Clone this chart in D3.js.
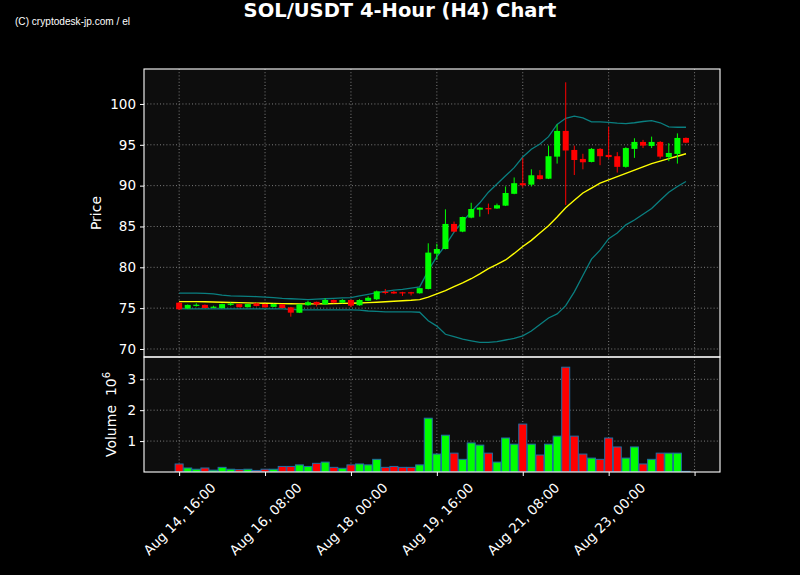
<!DOCTYPE html>
<html><head><meta charset="utf-8">
<script src="https://cdn.jsdelivr.net/npm/d3@7"></script>
<style>
html,body{margin:0;padding:0;background:#000;}
svg{display:block;font-family:"DejaVu Sans",sans-serif;}
</style></head>
<body>
<svg id="c" width="800" height="575"></svg>
<script>
// ---- data (4-hour candles, index 0 = Aug 14 16:00) ----
const open  = [75.67,74.96,75.35,75.40,75.12,75.00,75.40,75.50,75.12,75.60,75.50,75.16,75.47,75.10,74.44,75.36,75.77,75.47,76.00,75.67,
               76.00,75.35,75.90,76.09,77.00,77.00,76.95,76.95,76.82,77.35,81.67,82.24,85.31,84.37,86.08,87.06,87.25,87.20,87.55,89.00,
               90.30,90.12,91.27,90.85,93.55,96.70,94.37,93.27,92.90,94.50,93.76,93.60,92.30,94.50,95.35,94.86,95.35,93.50,93.88,95.84];
const high  = [75.75,75.45,75.60,75.45,75.30,75.55,75.70,75.55,75.55,75.65,75.55,75.55,75.50,75.15,75.50,75.90,75.80,76.20,76.05,76.10,
               76.05,76.10,76.45,77.15,77.35,77.10,77.00,77.00,77.50,82.94,82.90,87.10,85.60,86.20,87.90,87.35,87.80,87.80,89.90,91.00,
               93.40,92.00,91.90,94.90,97.50,102.65,94.90,93.90,94.60,94.60,97.20,94.10,94.70,95.80,95.60,96.00,95.45,95.20,96.40,95.90];
const low   = [74.80,74.90,75.20,74.98,75.00,74.98,75.30,75.08,75.08,75.20,75.05,75.12,74.98,73.96,74.40,75.30,75.20,75.40,75.60,75.60,
               75.10,75.30,75.85,76.00,76.70,76.75,76.50,76.55,76.78,77.30,80.90,82.20,84.30,84.30,86.00,86.20,86.50,87.15,87.50,88.95,
               89.80,89.90,90.75,90.80,92.70,87.63,91.30,92.00,92.85,92.50,93.30,91.60,92.20,93.40,94.60,94.60,93.30,93.00,92.70,95.20];
const close = [74.86,75.40,75.42,75.02,75.18,75.50,75.55,75.12,75.50,75.26,75.10,75.50,75.02,74.45,75.47,75.73,75.45,76.00,75.67,76.00,
               75.30,76.00,76.27,77.06,76.90,76.80,76.82,76.80,77.45,81.80,82.24,85.31,84.37,86.16,87.14,87.30,87.15,87.60,89.10,90.30,
               90.05,91.27,90.80,93.60,96.70,94.30,93.14,92.86,94.50,93.60,93.50,92.30,94.60,95.35,94.90,95.35,93.55,94.00,95.84,95.26];
// volume in units of 10^6
const volume = [0.26,0.13,0.09,0.13,0.06,0.15,0.09,0.075,0.09,0.05,0.09,0.09,0.18,0.18,0.23,0.18,0.28,0.32,0.15,0.12,
                0.23,0.26,0.23,0.41,0.15,0.18,0.15,0.15,0.23,1.74,0.58,1.19,0.61,0.41,0.94,0.87,0.61,0.32,1.10,0.90,
                1.55,0.90,0.55,0.90,1.16,3.39,1.16,0.58,0.45,0.41,1.10,0.81,0.45,0.81,0.26,0.41,0.61,0.61,0.61,0.02];
// SMA(20) and Bollinger bands
const sma20 = [75.80,75.80,75.80,75.78,75.75,75.72,75.70,75.68,75.65,75.62,75.60,75.58,75.56,75.54,75.52,75.52,75.52,75.54,75.56,75.58,
               75.60,75.64,75.68,75.72,75.78,75.84,75.90,75.96,76.05,76.35,76.75,77.15,77.63,78.10,78.60,79.20,79.85,80.35,80.90,81.70,
               82.55,83.30,84.20,85.10,86.15,87.30,88.20,89.10,89.70,90.30,90.70,91.10,91.50,91.90,92.30,92.70,93.00,93.30,93.60,93.90];
const upperBand = [76.85,76.85,76.83,76.80,76.75,76.60,76.50,76.48,76.45,76.42,76.35,76.30,76.20,76.15,76.10,76.05,76.10,76.15,76.20,76.25,
               76.30,76.50,76.70,76.90,77.05,77.20,77.30,77.45,77.60,79.60,81.30,82.70,84.30,85.60,86.80,87.90,89.20,90.20,91.20,92.20,
               93.50,94.45,95.10,96.00,97.50,98.25,98.50,98.30,97.80,97.80,97.75,97.65,97.60,97.70,97.85,97.95,97.70,97.20,97.15,97.15];
const lowerBand = [74.95,74.90,74.90,74.90,74.90,74.90,74.90,74.90,74.90,74.90,74.90,74.90,74.90,74.85,74.80,74.80,74.80,74.80,74.80,74.80,
               74.80,74.75,74.65,74.60,74.55,74.55,74.55,74.55,74.50,73.45,72.80,71.80,71.50,71.20,71.00,70.80,70.80,70.90,71.10,71.30,
               71.60,72.20,73.00,73.80,74.30,75.30,77.00,79.00,81.00,82.10,83.50,84.20,85.20,85.80,86.50,87.20,88.20,89.20,89.90,90.50];
const xTickIdx = [0,10,20,30,40,50,60];
const xTickLabels = ["Aug 14, 16:00","Aug 16, 08:00","Aug 18, 00:00","Aug 19, 16:00","Aug 21, 08:00","Aug 23, 00:00",""];
const priceTicks = [70,75,80,85,90,95,100];
const volTicks = [1,2,3];

// ---- layout ----
const L = 144, R = 720, PT = 69, PB = 357, VT = 357, VB = 472;
const svg = d3.select("#c");
svg.append("rect").attr("width",800).attr("height",575).attr("fill","#000");

const x = d3.scaleLinear().domain([-4.09, 62.96]).range([L, R]);
const yP = d3.scaleLinear().domain([69.02, 104.28]).range([PB, PT]);
const yV = d3.scaleLinear().domain([0, 3.72]).range([VB, VT]);
const step = x(1) - x(0);
const idx = d3.range(open.length);
const UP = "#00ff00", DN = "#ff0000";

// panels
[[PT,PB],[VT,VB]].forEach(([t,b]) => svg.append("rect").attr("x",L).attr("y",t).attr("width",R-L).attr("height",b-t).attr("fill","#0d0d0d"));

const gridStyle = g => g.attr("stroke","#9a9a9a").attr("stroke-width",0.8).attr("stroke-dasharray","1,2.2");
// grids price
const gp = svg.append("g");
priceTicks.forEach(v => gp.append("line").attr("x1",L).attr("x2",R).attr("y1",yP(v)).attr("y2",yP(v)).call(gridStyle));
xTickIdx.forEach(i => gp.append("line").attr("x1",x(i)).attr("x2",x(i)).attr("y1",PT).attr("y2",PB).call(gridStyle));
const gv = svg.append("g");
volTicks.forEach(v => gv.append("line").attr("x1",L).attr("x2",R).attr("y1",yV(v)).attr("y2",yV(v)).call(gridStyle));
xTickIdx.forEach(i => gv.append("line").attr("x1",x(i)).attr("x2",x(i)).attr("y1",VT).attr("y2",VB).call(gridStyle));

// clip
svg.append("clipPath").attr("id","cp").append("rect").attr("x",L).attr("y",PT).attr("width",R-L).attr("height",PB-PT);
svg.append("clipPath").attr("id","cv").append("rect").attr("x",L).attr("y",VT).attr("width",R-L).attr("height",VB-VT);

// volume bars
const vw = step*0.93;
svg.append("g").attr("clip-path","url(#cv)").selectAll("rect").data(idx).join("rect")
  .attr("x", i => x(i)-vw/2).attr("width", vw)
  .attr("y", i => yV(volume[i])).attr("height", i => yV(0)-yV(volume[i]))
  .attr("fill", i => close[i] >= open[i] ? UP : DN)
  .attr("stroke","#1f6ea6").attr("stroke-width",1);

// bands + sma
const gl = svg.append("g").attr("clip-path","url(#cp)");
const line = arr => d3.line().x(i => x(i)).y(i => yP(arr[i]))(idx);
gl.append("path").attr("d", line(upperBand)).attr("fill","none").attr("stroke","#0a7f80").attr("stroke-width",1.3);
gl.append("path").attr("d", line(lowerBand)).attr("fill","none").attr("stroke","#0a7f80").attr("stroke-width",1.3);
gl.append("path").attr("d", line(sma20)).attr("fill","none").attr("stroke","#ffff00").attr("stroke-width",1.4);

// candles
const bw = step*0.7;
const gc = gl.append("g");
gc.selectAll("line").data(idx).join("line")
  .attr("x1", i => x(i)).attr("x2", i => x(i))
  .attr("y1", i => yP(high[i])).attr("y2", i => yP(low[i]))
  .attr("stroke", i => close[i] >= open[i] ? UP : DN).attr("stroke-width",1);
gc.selectAll("rect").data(idx).join("rect")
  .attr("x", i => x(i)-bw/2).attr("width", bw)
  .attr("y", i => yP(Math.max(open[i],close[i])))
  .attr("height", i => Math.max(1.2, Math.abs(yP(open[i])-yP(close[i]))))
  .attr("fill", i => close[i] >= open[i] ? UP : DN);

// frames
[[PT,PB],[VT,VB]].forEach(([t,b]) => svg.append("rect").attr("x",L).attr("y",t).attr("width",R-L).attr("height",b-t)
  .attr("fill","none").attr("stroke","#fff").attr("stroke-width",1.1));

// axes
const styleAxis = g => { g.select(".domain").remove(); g.selectAll("line").attr("stroke","#fff");
  g.selectAll("text").attr("fill","#fff").style("font-size","13.5px").style("font-family","DejaVu Sans"); };
svg.append("g").attr("transform",`translate(${L},0)`)
  .call(d3.axisLeft(yP).tickValues(priceTicks).tickSize(4).tickPadding(4)).call(styleAxis);
svg.append("g").attr("transform",`translate(${L},0)`)
  .call(d3.axisLeft(yV).tickValues(volTicks).tickFormat(d3.format("d")).tickSize(4).tickPadding(4)).call(styleAxis);
const xa = svg.append("g").attr("transform",`translate(0,${VB})`)
  .call(d3.axisBottom(x).tickValues(xTickIdx).tickFormat((d,k) => xTickLabels[k]).tickSize(4)).call(styleAxis);
xa.selectAll("text").attr("text-anchor","middle").attr("dy","0.35em").attr("y",0)
  .attr("transform","translate(0,47) rotate(-45)");

// labels
svg.append("text").attr("transform",`translate(101,${(PT+PB)/2}) rotate(-90)`).attr("text-anchor","middle")
  .attr("fill","#fff").style("font-size","14px").text("Price");
const vl = svg.append("text").attr("transform",`translate(116,${(VT+VB)/2}) rotate(-90)`).attr("text-anchor","middle")
  .attr("fill","#fff").style("font-size","14px");
vl.append("tspan").text("Volume\u00a0\u00a010");
vl.append("tspan").attr("dy",-6).style("font-size","10px").text("6");

svg.append("text").attr("x",400).attr("y",17).attr("text-anchor","middle").attr("fill","#fff")
  .style("font-size","19.5px").style("font-weight","bold").text("SOL/USDT 4-Hour (H4) Chart");
svg.append("text").attr("x",15).attr("y",25).attr("fill","#fff").style("font-family","Liberation Sans")
  .style("font-size","10.5px").attr("textLength",115).attr("lengthAdjust","spacingAndGlyphs")
  .text("(C) cryptodesk-jp.com / el");
</script>
</body></html>
